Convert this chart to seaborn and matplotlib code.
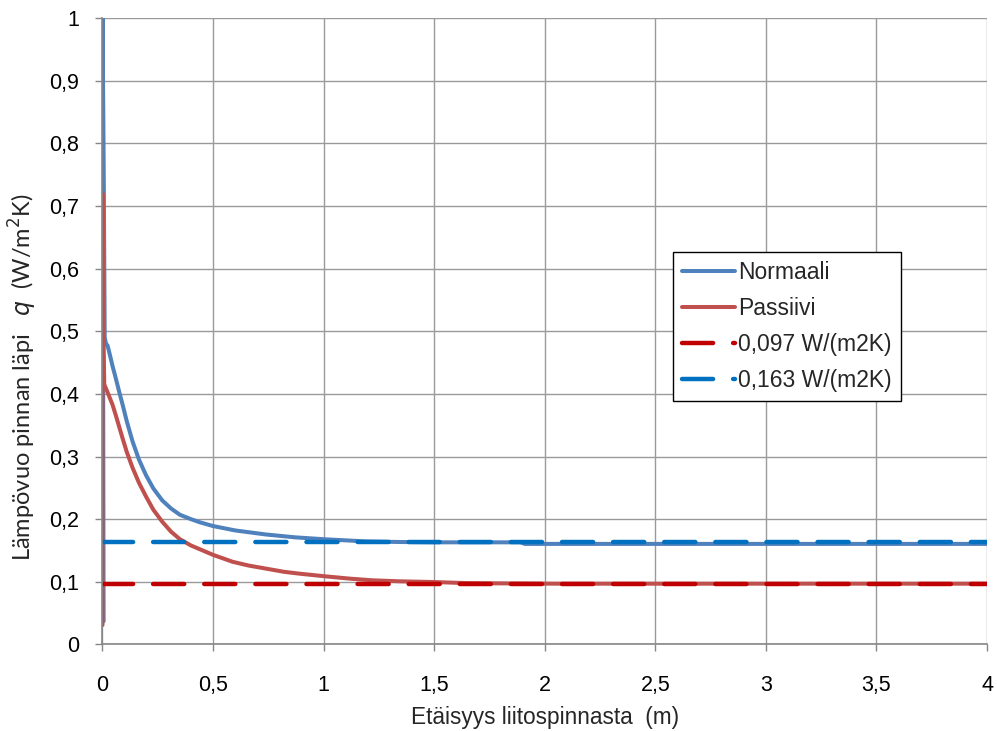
import numpy as np
import pandas as pd
import matplotlib
matplotlib.use("Agg")
import matplotlib.pyplot as plt
from matplotlib.ticker import MultipleLocator, FuncFormatter
import seaborn as sns

# Heat flux through the surface vs. distance from the joint surface
normaali_x = [0.005, 0.0, 0.004, 0.006, 0.010, 0.016, 0.023, 0.035, 0.045, 0.06,
              0.075, 0.09, 0.11, 0.136, 0.165, 0.197, 0.23, 0.27, 0.31, 0.35,
              0.40, 0.44, 0.5, 0.6, 0.74, 0.87, 1.0, 1.19, 1.35, 1.5,
              1.89, 1.91, 2.5, 3.0, 3.5, 4.0]
normaali_y = [0.037, 1.0, 0.83, 0.73, 0.49, 0.48, 0.477, 0.46, 0.445, 0.425,
              0.404, 0.384, 0.356, 0.324, 0.295, 0.270, 0.249, 0.230, 0.217,
              0.207, 0.200, 0.195, 0.189, 0.182, 0.1755, 0.171, 0.168, 0.1645,
              0.1635, 0.163, 0.163, 0.1605, 0.1605, 0.1605, 0.1605, 0.1605]

passiivi_x = [0.0, 0.0, 0.004, 0.008, 0.02, 0.045, 0.06, 0.075, 0.09, 0.11,
              0.136, 0.165, 0.197, 0.23, 0.27, 0.31, 0.35, 0.40, 0.44, 0.5,
              0.588, 0.66, 0.74, 0.82, 0.89, 1.0, 1.12, 1.22, 1.34, 1.49,
              1.64, 1.8, 2.05, 2.5, 3.0, 3.5, 4.0]
passiivi_y = [0.031, 0.72, 0.5, 0.415, 0.405, 0.383, 0.366, 0.348, 0.330, 0.307,
              0.282, 0.258, 0.236, 0.215, 0.196, 0.180, 0.168, 0.158, 0.152,
              0.143, 0.132, 0.126, 0.121, 0.116, 0.113, 0.109, 0.105, 0.1024,
              0.1008, 0.0997, 0.098, 0.0975, 0.097, 0.097, 0.097, 0.097, 0.097]

ref_x = [0.0, 4.0]
ref_passiivi = [0.097, 0.097]
ref_normaali = [0.163, 0.163]

labels = ["Normaali", "Passiivi", "0,097 W/(m2K)", "0,163 W/(m2K)"]
colors = ["#4F81BD", "#C0504D", "#C00000", "#0070C0"]

sns.set_style("white")
plt.rcParams["font.family"] = ["Liberation Sans", "DejaVu Sans"]

fig = plt.figure(figsize=(9.97, 7.31), dpi=100)
ax = fig.add_axes([0.1028, 0.1184, 0.8872, 0.8570])

dash = (0, (7, 4.5))

sns.lineplot(data=pd.DataFrame({"x": normaali_x, "y": normaali_y}), x="x", y="y",
             sort=False, estimator=None, color=colors[0], linewidth=2.9,
             label=labels[0], ax=ax)
sns.lineplot(data=pd.DataFrame({"x": passiivi_x, "y": passiivi_y}), x="x", y="y",
             sort=False, estimator=None, color=colors[1], linewidth=2.9,
             label=labels[1], ax=ax)
sns.lineplot(data=pd.DataFrame({"x": ref_x, "y": ref_passiivi}), x="x", y="y",
             sort=False, estimator=None, color=colors[2], linewidth=3.2,
             linestyle=dash, dash_capstyle="round", label=labels[2], ax=ax)
sns.lineplot(data=pd.DataFrame({"x": ref_x, "y": ref_normaali}), x="x", y="y",
             sort=False, estimator=None, color=colors[3], linewidth=3.2,
             linestyle=dash, dash_capstyle="round", label=labels[3], ax=ax)

ax.set_xlim(0, 4)
ax.set_ylim(0, 1)
ax.xaxis.set_major_locator(MultipleLocator(0.5))
ax.yaxis.set_major_locator(MultipleLocator(0.1))

def comma(v, pos):
    s = f"{v:.1f}".rstrip("0").rstrip(".")
    return s.replace(".", ",")

ax.xaxis.set_major_formatter(FuncFormatter(comma))
ax.yaxis.set_major_formatter(FuncFormatter(comma))

ax.grid(True, color="#9A9A9A", linewidth=1.0)
ax.set_axisbelow(True)
for side in ["top", "right"]:
    ax.spines[side].set_visible(False)
for side in ["left", "bottom"]:
    ax.spines[side].set_color("#868686")
    ax.spines[side].set_linewidth(1.2)

ax.tick_params(axis="both", which="major", direction="out", length=4.8,
               width=1.0, color="#868686", labelsize=15.5,
               labelcolor="black", left=True, bottom=True)
ax.tick_params(axis="x", pad=17)
ax.tick_params(axis="y", pad=12)

ax.set_xlabel("Etäisyys liitospinnasta  (m)", fontsize=16.3)
ax.xaxis.set_label_coords(0.5, -0.098)
ax.set_ylabel("Lämpövuo pinnan läpi   $\\it{q}$  (W/m$^2$K)", fontsize=17,
              family=["Lato", "DejaVu Sans"])
ax.yaxis.set_label_coords(-0.072, 0.427)

leg = ax.legend(loc="upper left", bbox_to_anchor=(0.645, 0.626), borderaxespad=0,
                fontsize=16.5, frameon=True, fancybox=False, framealpha=1,
                edgecolor="black", handlelength=2.3, handletextpad=0.15,
                labelspacing=0.56, borderpad=0.4)
leg.get_frame().set_linewidth(1.0)

fig.savefig("out.png", dpi=100)
